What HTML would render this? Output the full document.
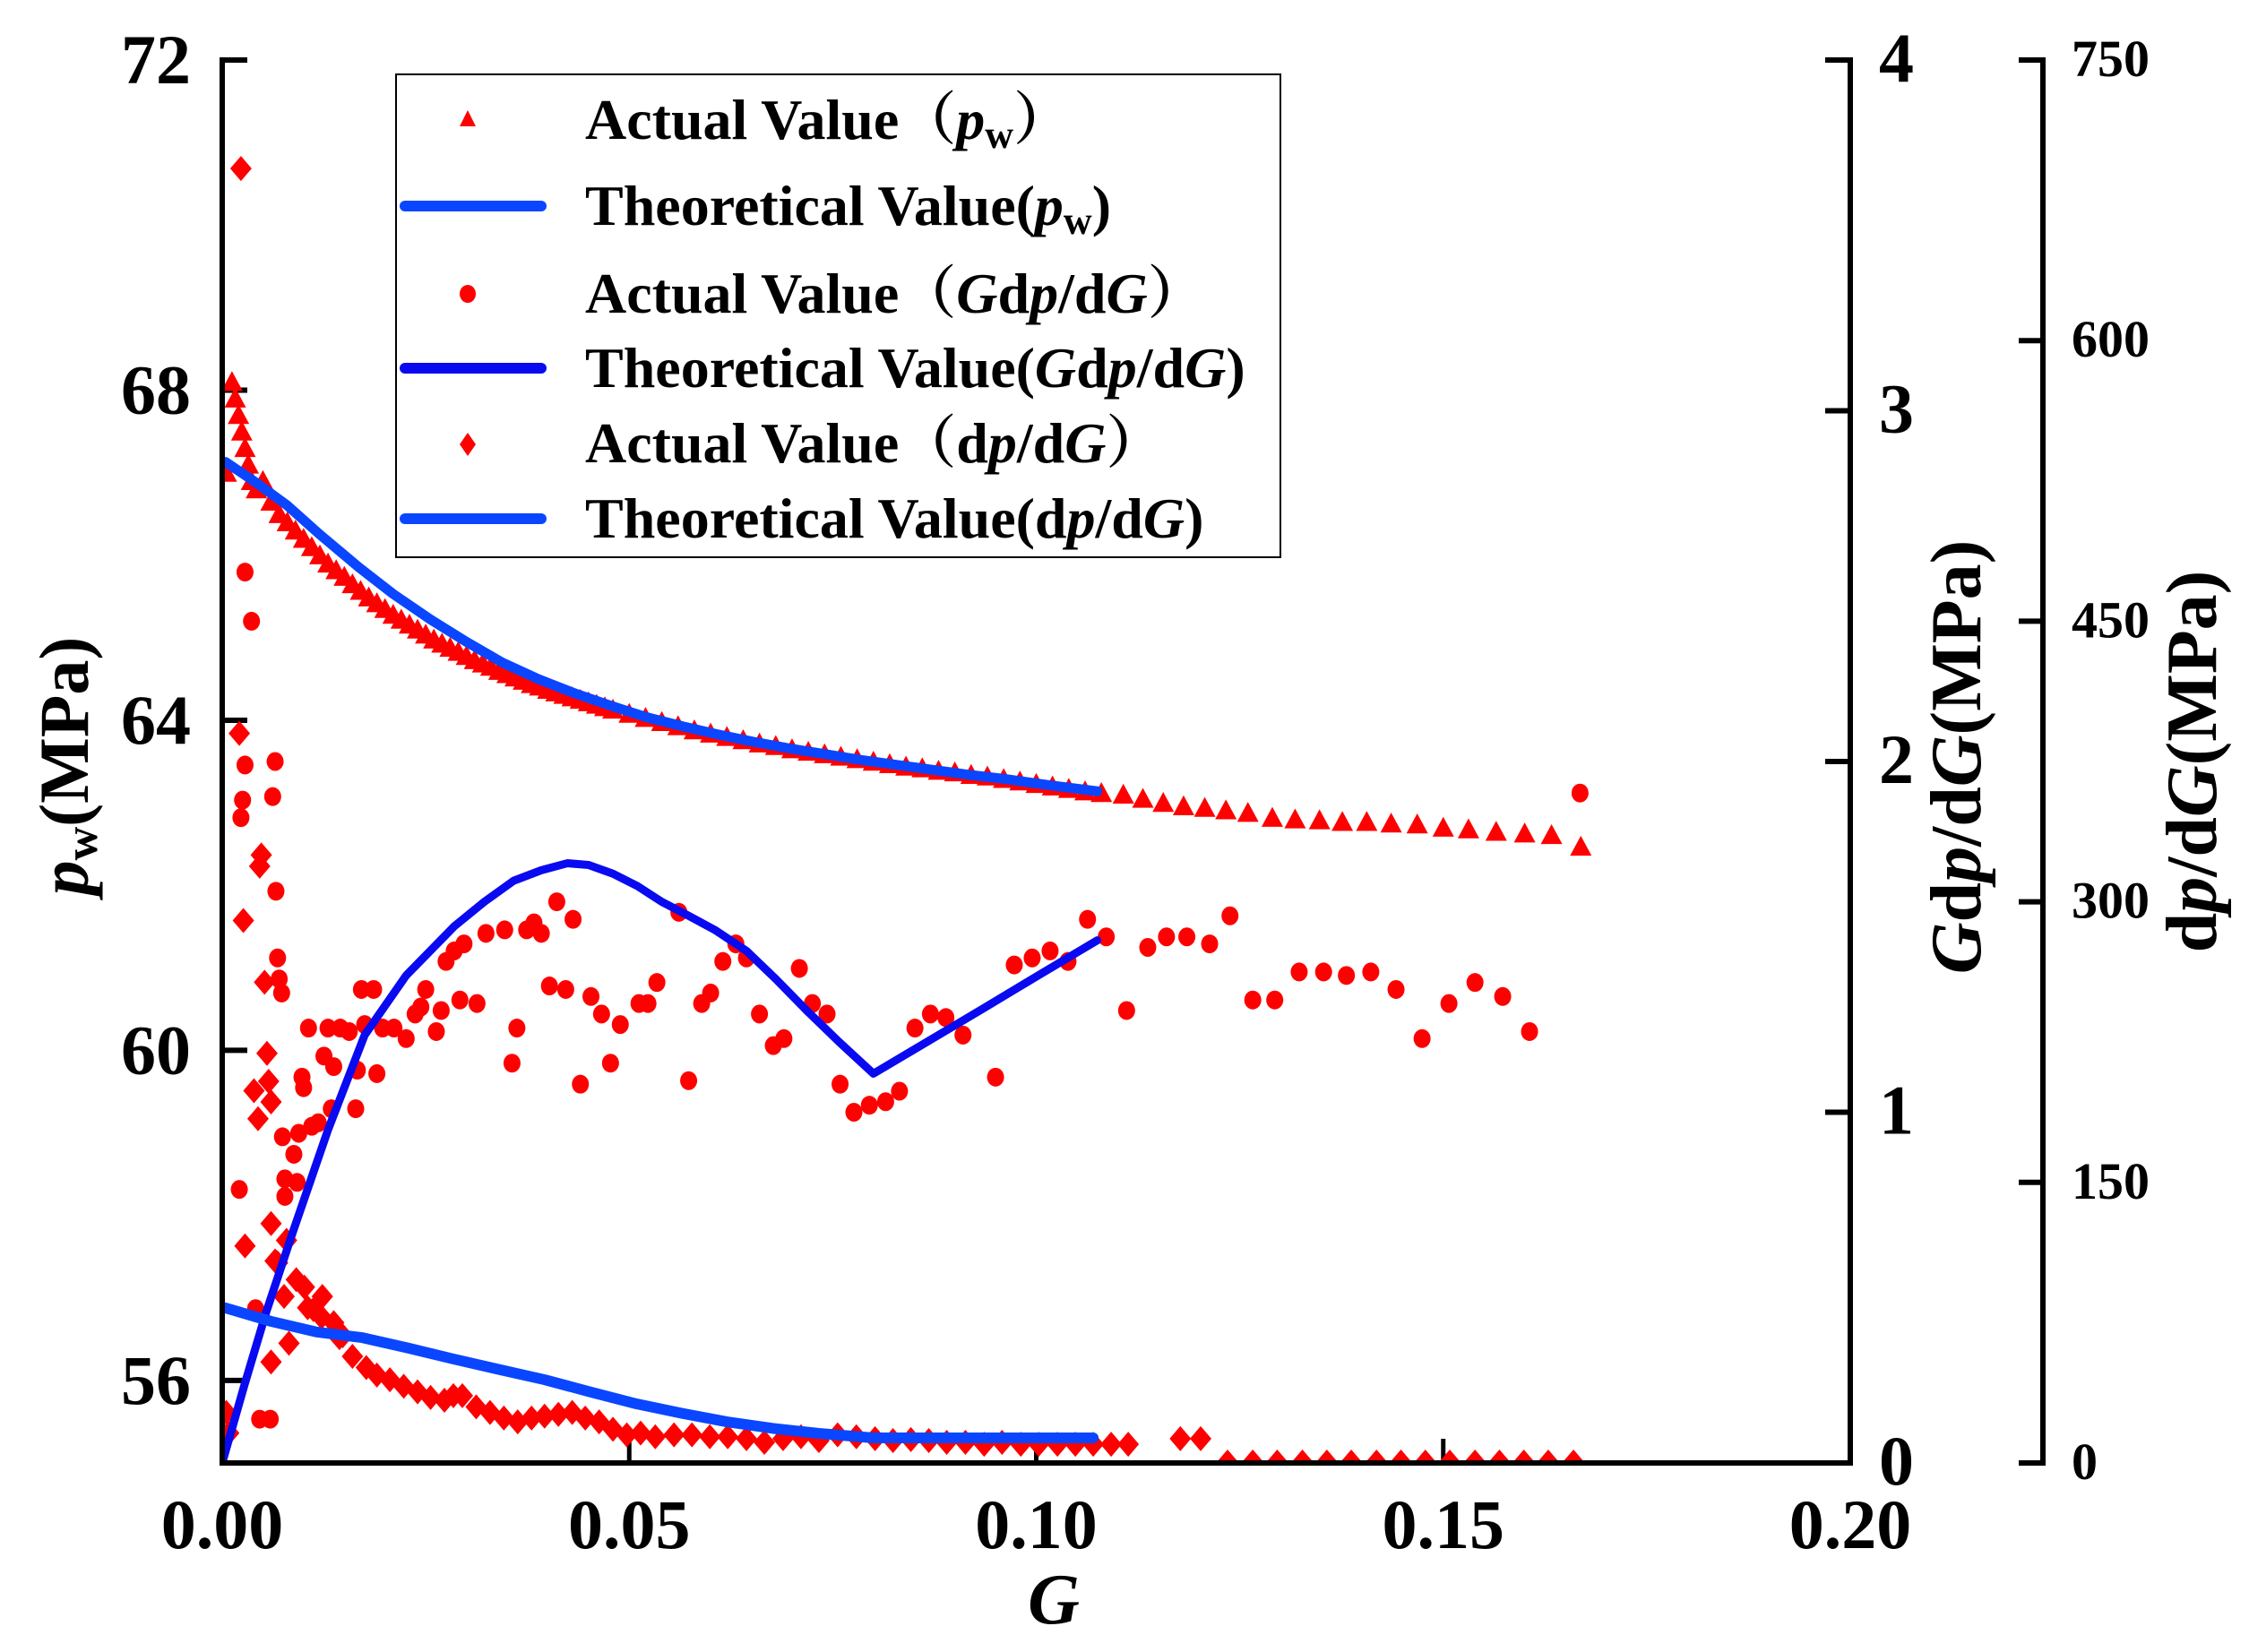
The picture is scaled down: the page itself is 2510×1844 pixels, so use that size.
<!DOCTYPE html>
<html><head><meta charset="utf-8"><style>
html,body{margin:0;padding:0;background:#fff;}
svg{display:block;}
text{font-family:"Liberation Serif","Noto Serif CJK SC",serif;font-weight:bold;fill:#000;}
</style></head><body>
<svg id="chart" width="2510" height="1844" viewBox="0 0 2510 1844" xmlns="http://www.w3.org/2000/svg">
<defs><clipPath id="plotClip"><rect x="251" y="40" width="1811" height="1590"/></clipPath></defs>
<g id="axes"></g>
<g id="marks" clip-path="url(#plotClip)"></g>
<g id="legend"></g>
</svg>
<script>
// ---- data ----
const pwActualG = [0.0005,0.0012,0.0016,0.0020,0.0024,0.0028,0.0032,0.0036,0.0042,0.005,0.006,0.007,0.008,0.009,0.010,0.011,0.012,0.013,0.014,0.015,0.016,0.017,0.018,0.019,0.020,0.021,0.022,0.023,0.024,0.025,0.026,0.027,0.028,0.029,0.030,0.031,0.032,0.033,0.034,0.035,0.036,0.037,0.038,0.039,0.040,0.041,0.042,0.043,0.044,0.045,0.046,0.047,0.048,0.050,0.052,0.054,0.056,0.058,0.060,0.062,0.064,0.066,0.068,0.070,0.072,0.074,0.076,0.078,0.080,0.082,0.084,0.086,0.088,0.090,0.092,0.094,0.096,0.098,0.100,0.102,0.104,0.106,0.108,0.1107,0.1131,0.1156,0.1181,0.1207,0.1233,0.126,0.129,0.1318,0.1348,0.1376,0.1406,0.1436,0.1468,0.15,0.1531,0.1565,0.16,0.1633,0.1669];
const pwActualV = [67.0,68.1,67.9,67.7,67.5,67.3,67.1,66.9,66.8,66.9,66.65,66.5,66.4,66.3,66.2,66.1,66.0,65.9,65.82,65.74,65.65,65.57,65.49,65.42,65.35,65.28,65.22,65.16,65.10,65.04,64.98,64.93,64.88,64.83,64.78,64.73,64.69,64.65,64.60,64.56,64.52,64.48,64.44,64.41,64.37,64.34,64.31,64.28,64.25,64.22,64.19,64.16,64.13,64.08,64.03,63.98,63.93,63.88,63.84,63.80,63.76,63.72,63.69,63.65,63.62,63.59,63.56,63.53,63.50,63.47,63.44,63.42,63.39,63.37,63.34,63.32,63.29,63.26,63.23,63.20,63.17,63.14,63.12,63.1,63.05,63.0,62.96,62.94,62.91,62.88,62.82,62.8,62.79,62.77,62.77,62.75,62.74,62.7,62.68,62.65,62.63,62.61,62.47];
const pwTheoryG = [0.0004,0.004,0.0079,0.012,0.0167,0.021,0.0256,0.030,0.0344,0.0388,0.0432,0.0476,0.052,0.0564,0.0608,0.0652,0.0696,0.074,0.0784,0.0828,0.0872,0.0916,0.096,0.1018,0.1075];
const pwTheoryV = [67.13,66.89,66.61,66.25,65.86,65.53,65.22,64.95,64.70,64.50,64.33,64.18,64.04,63.93,63.83,63.74,63.66,63.59,63.52,63.46,63.40,63.34,63.29,63.21,63.14];

const gdpActualG = [0.0028,0.0036,0.0028,0.0025,0.0023,0.0065,0.0062,0.0066,0.0068,0.0070,0.0073,0.0106,0.013,0.0145,0.0156,0.0171,0.0186,0.0175,0.0125,0.0137,0.0098,0.0100,0.0166,0.019,0.0118,0.011,0.0134,0.0164,0.0074,0.0094,0.0088,0.0077,0.0092,0.0077,0.0021,0.0041,0.0046,0.0059,
 0.0197,0.0211,0.0226,0.0237,0.0244,0.025,0.0263,0.0269,0.0275,
 0.0411,0.0431,0.0561,0.0285,0.0297,0.0324,0.0347,0.0374,0.0383,0.0392,0.0292,0.0313,0.0362,0.0356,0.0402,0.0422,0.0453,0.0466,0.0489,0.044,0.0477,0.0512,0.0523,0.0534,0.0573,0.0589,0.06,0.0615,0.0631,0.0644,0.066,0.0677,0.069,0.0709,0.0725,0.0743,0.0759,0.0776,0.0795,0.0815,0.0832,0.0851,0.087,0.0889,0.091,0.095,0.0973,0.0995,0.1017,0.1039,0.1063,0.1086,0.1111,0.1137,0.116,0.1185,0.1213,0.1238,0.1266,0.1293,0.1323,0.1353,0.1381,0.1411,0.1442,0.1474,0.1507,0.1539,0.1573,0.1606,0.1668];
const gdpActualV = [2.54,2.40,1.99,1.89,1.84,2.00,1.90,1.63,1.44,1.38,1.34,1.24,1.24,1.24,1.23,1.35,1.35,1.25,1.16,1.13,1.10,1.07,1.12,1.11,0.97,0.96,1.01,1.01,0.93,0.94,0.88,0.81,0.80,0.76,0.78,0.44,0.125,0.125,
 1.24,1.24,1.21,1.28,1.30,1.35,1.23,1.29,1.43,
 1.60,1.55,1.57,1.46,1.48,1.51,1.52,1.52,1.54,1.51,1.32,1.31,1.24,1.14,1.36,1.35,1.33,1.28,1.25,1.08,1.14,1.31,1.31,1.37,1.09,1.31,1.34,1.43,1.48,1.44,1.28,1.19,1.21,1.41,1.31,1.28,1.08,1.00,1.02,1.03,1.06,1.24,1.28,1.27,1.22,1.10,1.42,1.44,1.46,1.43,1.55,1.50,1.29,1.47,1.50,1.50,1.48,1.56,1.32,1.32,1.40,1.40,1.39,1.40,1.35,1.21,1.31,1.37,1.33,1.23,1.91];
const gdpTheoryG = [0,0.0027,0.0054,0.0087,0.013,0.0175,0.0226,0.0285,0.0322,0.0358,0.0392,0.0424,0.045,0.048,0.051,0.054,0.0573,0.0605,0.0644,0.068,0.0718,0.0758,0.080,0.0869,0.0938,0.1006,0.1075];
const gdpTheoryV = [0,0.22,0.43,0.66,0.95,1.22,1.39,1.53,1.60,1.66,1.69,1.71,1.705,1.68,1.645,1.60,1.56,1.52,1.46,1.38,1.29,1.20,1.11,1.205,1.30,1.395,1.49];

const dpActualG = [0.0023,0.0021,0.0048,0.0046,0.0026,0.0052,0.0055,0.0057,0.0039,0.006,0.0044,0.006,0.0028,0.0008,0.0005,0.0079,0.0065,0.0091,0.0076,0.0101,0.0112,0.0137,0.0148,0.0068,0.0123,0.006,0.0082,0.0105,0.0122,0.0144,0.0160,0.0177,0.0190,0.0206,0.0223,0.0240,0.0256,0.0273,0.0284,0.0295,0.0312,0.0329,0.0346,0.0363,0.0380,0.0396,0.0413,0.0430,0.0446,0.0463,0.0480,0.0497,0.0514,0.0532,0.0555,0.0577,0.0599,0.0621,0.0644,0.0666,0.0689,0.0711,0.0733,0.0756,0.0779,0.0802,0.0824,0.0846,0.0868,0.0890,0.0913,0.0936,0.0958,0.0981,0.1003,0.1026,0.1048,0.1070,0.1092,0.1113,0.1177,0.1202,0.1235,0.1266,0.1296,0.1327,0.1357,0.1387,0.1418,0.1448,0.1478,0.1508,0.1539,0.1569,0.1599,0.1629,0.1660];
const dpActualV = [692,390,325,319,290,257,219,204,199,193,184,128,116,16,27,119,108,98,89,94,82,75,68,107,89,54,64,83,78,67,57,51,47,44.5,41,38,35,33.5,36,36,30,27,24,22,24,25,26,27,24,22,18,15,16,14,15,15,14,14,13,11,13,14,12,15,14,13,12,12.5,12,11,11,10,11,10,10,10,10,10,10,10,13,13,0.5,0.5,0.5,0.5,0.5,0.5,0.5,0.5,0.5,0.5,0.5,0.5,0.5,0.5,0.5];
const dpTheoryG = [0.0003,0.006,0.0116,0.0172,0.0228,0.0284,0.034,0.0396,0.0452,0.0509,0.0565,0.062,0.0676,0.0733,0.080,0.09,0.107];
const dpTheoryV = [83,75.7,70,67,61.5,55.6,50,44.5,38,31.6,26.5,22,18.5,15.8,13.4,13.4,13.4];

const xTicks = [0,0.05,0.10,0.15,0.20];
const xTickLabels = ["0.00","0.05","0.10","0.15","0.20"];
const yLeftTicks = [56,60,64,68,72];
const yGdpTicks = [0,1,2,3,4];
const yDpTicks = [0,150,300,450,600,750];

// ---- scales ----
const X0=248, X1=2065, Y0=1633, YT=67;
const xS = g => X0 + (g-0)/(0.2-0)*(X1-X0);
const yPw = v => Y0 - (v-55)/(72-55)*(Y0-YT);
const yGdp = v => Y0 - v/4*(Y0-YT);
const yDp = v => Y0 - v/750*(Y0-YT);

const NS="http://www.w3.org/2000/svg";
function mk(tag, attrs, parent){const e=document.createElementNS(NS,tag);for(const k in attrs)e.setAttribute(k,attrs[k]);parent.appendChild(e);return e;}
const axes=document.getElementById('axes'), marks=document.getElementById('marks'), legend=document.getElementById('legend');

// ---- axes ----
let e;
e=mk('path',{d:`M${X0+28} ${YT} H${X0} V${Y0} H${X1} V${YT} H${X1-28}`,fill:'none',stroke:'#000','stroke-width':6},axes);


e=mk('path',{d:`M2253 ${YT} H2280 V${Y0} H2253`,fill:'none',stroke:'#000','stroke-width':6},axes);


yLeftTicks.forEach(v=>{
  const y=yPw(v);
  let t=mk('line',{x1:X0,x2:X0+28,y1:y,y2:y,stroke:'#000','stroke-width':6},axes);
  
  
  let l=mk('text',{x:213,y:y+26,'text-anchor':'end','font-size':78},axes);
  l.textContent=String(v);
  
  
});
xTicks.forEach((v,i)=>{
  const x=xS(v);
  if(i>0&&i<xTicks.length-1){let t=mk('line',{x1:x,x2:x,y1:Y0,y2:Y0-27,stroke:'#000','stroke-width':5},axes);
  
  }
  let l=mk('text',{x:x,y:1728,'text-anchor':'middle','font-size':78},axes);
  l.textContent=xTickLabels[i];
  
  
});
yGdpTicks.forEach(v=>{
  const y=yGdp(v);
  let t=mk('line',{x1:X1-28,x2:X1,y1:y,y2:y,stroke:'#000','stroke-width':6},axes);
  
  
  let l=mk('text',{x:2097,y:y+24,'font-size':78},axes);
  l.textContent=String(v);
  
  
});
yDpTicks.forEach(v=>{
  const y=yDp(v);
  let t=mk('line',{x1:2253,x2:2280,y1:y,y2:y,stroke:'#000','stroke-width':6},axes);
  
  
  let l=mk('text',{x:2312,y:y+18,'font-size':58},axes);
  l.textContent=String(v);
  
  
});
// axis titles
e=mk('text',{x:0,y:0,'font-size':78,'text-anchor':'middle',transform:'translate(98,855) rotate(-90)'},axes);
e.innerHTML='<tspan font-style="italic">p</tspan><tspan font-size="52" dy="10">w</tspan><tspan dy="-10">(MPa)</tspan>';


e=mk('text',{x:0,y:0,'font-size':80,'text-anchor':'middle',transform:'translate(2210,845) rotate(-90)'},axes);
e.innerHTML='<tspan font-style="italic">G</tspan>d<tspan font-style="italic">p</tspan>/d<tspan font-style="italic">G</tspan>(MPa)';


e=mk('text',{x:0,y:0,'font-size':80,'text-anchor':'middle',transform:'translate(2473,850) rotate(-90)'},axes);
e.innerHTML='d<tspan font-style="italic">p</tspan>/d<tspan font-style="italic">G</tspan>(MPa)';


e=mk('text',{x:1176,y:1812,'font-size':80,'text-anchor':'middle','font-style':'italic'},axes);
e.textContent='G';



// ---- marks ----
function tri(x,y,p){const s=12;return mk('path',{d:`M${x} ${y-s} L${x+s} ${y+s*0.85} L${x-s} ${y+s*0.85}Z`,fill:'#ff0000'},p);}
function dia(x,y,p){return mk('path',{d:`M${x} ${y-14} L${x+12} ${y} L${x} ${y+14} L${x-12} ${y}Z`,fill:'#ff0000'},p);}
function line(gs,vs,ys,color,w,p){return mk('polyline',{points:gs.map((g,i)=>xS(g)+','+ys(vs[i])).join(' '),fill:'none',stroke:color,'stroke-width':w,'stroke-linejoin':'round','stroke-linecap':'round'},p);}

dpActualG.forEach((g,i)=>{const m=dia(xS(g),yDp(dpActualV[i]),marks);
  
  });
gdpActualG.forEach((g,i)=>{const m=mk('ellipse',{cx:xS(g),cy:yGdp(gdpActualV[i]),rx:9.5,ry:10.5,fill:'#ff0000'},marks);
  
  });
pwActualG.forEach((g,i)=>{const m=tri(xS(g),yPw(pwActualV[i]),marks);
  
  });
e=line(pwTheoryG,pwTheoryV,yPw,'#0a46ff',11,marks);


e=line(gdpTheoryG,gdpTheoryV,yGdp,'#0a0af0',9,marks);


e=line(dpTheoryG,dpTheoryV,yDp,'#0a46ff',12,marks);



// ---- legend ----
e=mk('rect',{x:442,y:83,width:987,height:539,fill:'#fff',stroke:'#000','stroke-width':2},legend);


const rows=[
 {t:'tri',y:133,b:155,h:'Actual Value（<tspan font-style="italic">p</tspan><tspan font-size="44" dy="10">w</tspan><tspan dy="-10">）</tspan>'},
 {t:'line',c:'#0a46ff',y:230,b:251,h:'Theoretical Value(<tspan font-style="italic">p</tspan><tspan font-size="44" dy="10">w</tspan><tspan dy="-10">)</tspan>'},
 {t:'dot',y:328,b:349,h:'Actual Value（<tspan font-style="italic">G</tspan>d<tspan font-style="italic">p</tspan>/d<tspan font-style="italic">G</tspan>）'},
 {t:'line',c:'#0a0af0',y:411,b:432,h:'Theoretical Value(<tspan font-style="italic">G</tspan>d<tspan font-style="italic">p</tspan>/d<tspan font-style="italic">G</tspan>)'},
 {t:'dia',y:496,b:516,h:'Actual Value（d<tspan font-style="italic">p</tspan>/d<tspan font-style="italic">G</tspan>）'},
 {t:'line',c:'#0a46ff',y:579,b:600,h:'Theoretical Value(d<tspan font-style="italic">p</tspan>/d<tspan font-style="italic">G</tspan>)'}
];
rows.forEach(r=>{
  let m;
  if(r.t==='tri'){m=mk('path',{d:`M522 ${r.y-10} L531 ${r.y+8} L513 ${r.y+8}Z`,fill:'#ff0000'},legend);}
  else if(r.t==='dot'){m=mk('ellipse',{cx:522,cy:r.y,rx:9,ry:10,fill:'#ff0000'},legend);}
  else if(r.t==='dia'){m=mk('path',{d:`M522 ${r.y-13} L531 ${r.y} L522 ${r.y+13} L513 ${r.y}Z`,fill:'#ff0000'},legend);}
  else {m=mk('line',{x1:452,x2:604,y1:r.y,y2:r.y,stroke:r.c,'stroke-width':12,'stroke-linecap':'round'},legend);}
  
  
  const t=mk('text',{x:653,y:r.b,'font-size':64},legend);
  t.innerHTML=r.h;
  
  
});
</script>
</body></html>
